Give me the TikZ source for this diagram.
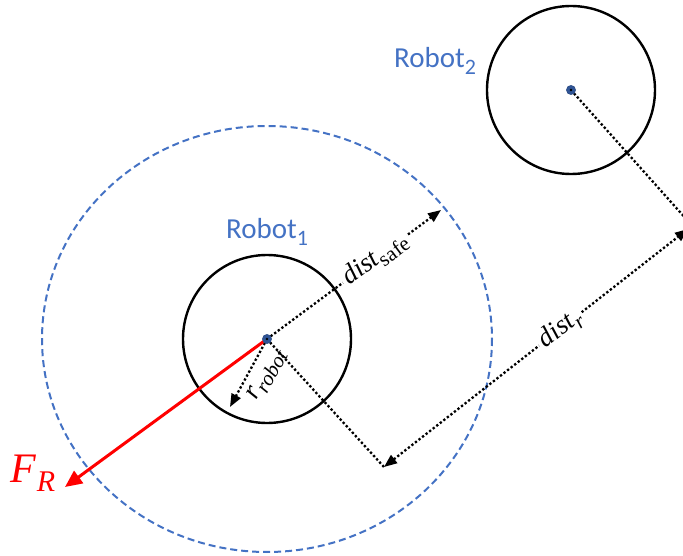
\documentclass[tikz,border=0pt]{standalone}
\usepackage{fontspec}
\setsansfont{Carlito}
\newfontfamily\dimfont{Liberation Serif}
\usetikzlibrary{arrows.meta}
\definecolor{rblue}{HTML}{4472C4}
\definecolor{dblue}{HTML}{2F5597}
\tikzset{
  body/.style={draw=black, line width=2.4pt},
  safezone/.style={draw=rblue, line width=2pt, dash pattern=on 7pt off 4pt},
  dimline/.style={line width=2.3pt, dash pattern=on 2.3pt off 2.2pt},
  dimtip/.style={-{Triangle[length=13pt,width=10pt]}},
  centerdot/.style={circle, fill=dblue, draw=rblue!70!black, line width=0.8pt, inner sep=0pt, minimum size=9pt},
  roblabel/.style={text=rblue, font=\sffamily\fontsize{29}{29}\selectfont},
  dimlabel/.style={font=\dimfont\fontsize{27}{27}\selectfont, fill=white, inner sep=3pt},
  force/.style={draw=red, line width=3pt, -{Triangle[length=17pt,width=15pt]}}
}
\newcommand{\robsub}[1]{\raisebox{-0.22em}{\fontsize{22}{22}\selectfont #1}}
\newcommand{\lowsub}[1]{\raisebox{-0.22em}{\fontsize{21}{21}\selectfont #1}}
\begin{document}
\begin{tikzpicture}[x=1pt,y=-1pt]
\useasboundingbox (0,0) rectangle (683,556);
\clip (0,0) rectangle (683,556);
% robot 1
\coordinate (c1) at (267,339);
\draw[safezone] (c1) ellipse [x radius=225, y radius=213];
\draw[body] (c1) circle [radius=84];
% robot 2
\coordinate (c2) at (571,90);
\draw[body] (c2) circle [radius=84];
% dimension helper points
\coordinate (safeEnd) at (441,210);
\coordinate (rEnd) at (230,407);
\coordinate (dA) at (384,467);
\coordinate (dB) at (688,229);
\coordinate (e2) at (696,230);
% extension lines
\draw[dimline] (c1) -- (dA);
\draw[dimline] (c2) -- (e2);
% dist_safe
\draw[dimline, dimtip] (c1) -- node[pos=0.62, sloped, dimlabel] {\textit{dist}\lowsub{safe}} (safeEnd);
% r_robot
\draw[dimline, dimtip] (c1) -- (rEnd);
\node[font=\dimfont\fontsize{27}{27}\selectfont, rotate=61, inner sep=1pt] (rlab) at (267,375) {\textit{r}\lowsub{\itshape robot}};
% dist_r
\draw[dimline, {Triangle[length=13pt,width=10pt]}-{Triangle[length=13pt,width=10pt]}] (dA) -- node[pos=0.58, sloped, dimlabel] {\textit{dist}\lowsub{\itshape r}} (dB);
% force
\draw[force] (c1) -- (65,487) coordinate (fEnd);
\node[text=red, font=\dimfont\fontsize{42}{42}\selectfont] (flab) at (33,473) {\textit{F}\raisebox{-0.22em}{\fontsize{30}{30}\selectfont\itshape R}};
% center dots
\node[centerdot] (d1) at (c1) {};
\node[centerdot] (d2) at (c2) {};
\fill (c1) circle [radius=1.3pt];
\fill (c2) circle [radius=1.3pt];
% labels
\node[roblabel] (l1) at (267,232) {Robot\robsub{1}};
\node[roblabel] (l2) at (435,61) {Robot\robsub{2}};
\end{tikzpicture}
\end{document}
